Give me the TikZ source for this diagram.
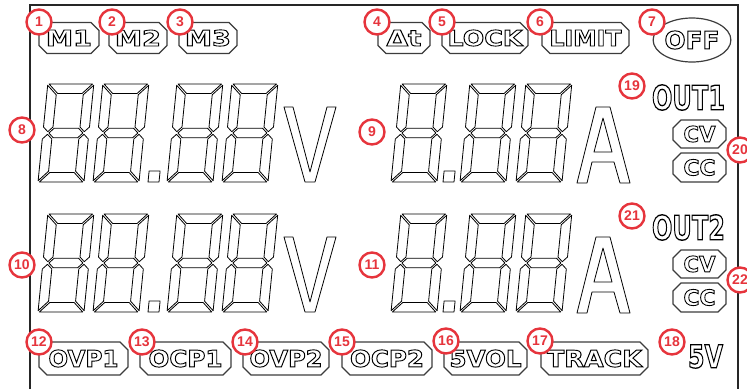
\documentclass[tikz,border=0pt]{standalone}
\usepackage{fontspec}
\usepackage{graphicx}
\usetikzlibrary{shapes.misc,shapes.geometric}
\setmainfont{Liberation Sans}
\newfontfamily\lcdfont{DejaVu Sans}
\definecolor{cred}{RGB}{230,52,60}
\definecolor{boxc}{RGB}{60,60,60}
\newcommand{\ot}[3]{\resizebox{#1pt}{#2pt}{\fontsize{20pt}{20pt}\selectfont\lcdfont\bfseries\special{pdf:literal direct 1 Tr 0.8 w}#3\special{pdf:literal direct 0 Tr}}}
\newcommand{\sdigit}[2]{%
 \begin{scope}[shift={(#1,#2)},xslant=0.1,yscale=-1]
  \draw[seg] (1.3,98) -- (44.7,98) -- (35.2,88.5) -- (10.8,88.5) -- cycle;
  \draw[seg] (0,96.7) -- (9.5,87.2) -- (9.5,55) -- (4.75,50.3) -- (0,55) -- cycle;
  \draw[seg] (46,96.7) -- (36.5,87.2) -- (36.5,55) -- (41.25,50.3) -- (46,55) -- cycle;
  \draw[seg] (6,49) -- (10.8,53.75) -- (35.2,53.75) -- (40,49) -- (35.2,44.25) -- (10.8,44.25) -- cycle;
  \draw[seg] (0,1.3) -- (9.5,10.8) -- (9.5,43) -- (4.75,47.7) -- (0,43) -- cycle;
  \draw[seg] (46,1.3) -- (36.5,10.8) -- (36.5,43) -- (41.25,47.7) -- (46,43) -- cycle;
  \draw[seg] (1.3,0) -- (44.7,0) -- (35.2,9.5) -- (10.8,9.5) -- cycle;
 \end{scope}}
\newcommand{\sdot}[2]{%
 \begin{scope}[shift={(#1,#2)},xslant=0.1,yscale=-1]
  \draw[seg] (0,0) rectangle (11,11);
 \end{scope}}
\begin{document}
\begin{tikzpicture}[x=1pt,y=-1pt,
  seg/.style={draw=black,line width=0.8pt,line join=round},
  frameline/.style={draw=black!85,line width=1.6pt},
  cbox/.style={chamfered rectangle,chamfered rectangle xsep=4pt,chamfered rectangle ysep=4pt,draw=boxc,line width=1.2pt,inner sep=0pt,fill=white},
  lbl/.style={inner sep=0pt},
  num/.style={circle,draw=cred,line width=2.4pt,fill=white,minimum size=25pt,inner sep=0pt,text=cred,font=\fontsize{14pt}{14pt}\selectfont\bfseries}]
\useasboundingbox (0,0) rectangle (747,389);
% frame
\draw[frameline] (30,389) -- (30,5) -- (738,5) -- (738,389);
% digits
\foreach \r in {0,130}{
  \foreach \x in {38,93,167,222,391,460,516}{\sdigit{\x}{182+\r}}
  \sdot{148}{182+\r}
  \sdot{443}{182+\r}
  \draw[seg] (284,107+\r) -- (293,107+\r) -- (310,172+\r) -- (327,107+\r) -- (336,107+\r) -- (315,182+\r) -- (305,182+\r) -- cycle;
  \draw[seg,even odd rule] (577,183+\r) -- (596,107+\r) -- (610,107+\r) -- (630,183+\r) -- (620,183+\r) -- (614,162+\r) -- (592,162+\r) -- (587,183+\r) -- cycle
     (594,152+\r) -- (612,152+\r) -- (603,118+\r) -- cycle;
}
% top row
\node[cbox,minimum width=60pt,minimum height=31pt] (m1) at (69,38) {\ot{46}{16}{M1}};
\node[cbox,minimum width=58pt,minimum height=31pt] (m2) at (138,38) {\ot{46}{16}{M2}};
\node[cbox,minimum width=58pt,minimum height=31pt] (m3) at (208,38) {\ot{46}{16}{M3}};
\node[cbox,minimum width=52pt,minimum height=31pt] (dt) at (404,38) {\ot{35}{16}{Δt}};
\node[cbox,minimum width=86pt,minimum height=31pt] (lock) at (485,38) {\ot{75}{16}{LOCK}};
\node[cbox,minimum width=87pt,minimum height=31pt] (limit) at (585.5,38) {\ot{72}{16}{LIMIT}};
\node[ellipse,draw=boxc,line width=1.2pt,minimum width=76pt,minimum height=44pt,inner sep=0pt] (off) at (692,40) {\ot{55}{18}{OFF}};
% right side
\node[lbl] (out1) at (688.5,97.5) {\ot{73}{25}{OUT1}};
\node[cbox,minimum width=53pt,minimum height=28pt] (cv1) at (699.5,134) {\ot{32}{16}{CV}};
\node[cbox,minimum width=53pt,minimum height=29pt] (cc1) at (699.5,167.5) {\ot{32}{16}{CC}};
\node[lbl] (out2) at (688.5,227.5) {\ot{73}{25}{OUT2}};
\node[cbox,minimum width=53pt,minimum height=28pt] (cv2) at (699.5,264) {\ot{32}{16}{CV}};
\node[cbox,minimum width=53pt,minimum height=29pt] (cc2) at (699.5,297.5) {\ot{32}{16}{CC}};
% bottom row
\node[cbox,minimum width=89pt,minimum height=33pt] (ovp1) at (83.5,358.5) {\ot{70}{17}{OVP1}};
\node[cbox,minimum width=91pt,minimum height=33pt] (ocp1) at (185.5,358.5) {\ot{74}{17}{OCP1}};
\node[cbox,minimum width=86pt,minimum height=33pt] (ovp2) at (286,358.5) {\ot{73}{17}{OVP2}};
\node[cbox,minimum width=90pt,minimum height=33pt] (ocp2) at (387,358.5) {\ot{74}{17}{OCP2}};
\node[cbox,minimum width=83pt,minimum height=33pt] (fivevol) at (485.5,358.5) {\ot{72}{17}{5VOL}};
\node[cbox,minimum width=107pt,minimum height=33pt] (track) at (594.5,358.5) {\ot{95}{17}{TRACK}};
\node[lbl] (fivev) at (705.5,356.5) {\ot{35}{23}{5V}};
% numbered circles
\node[num] (n1) at (39,22) {1};
\node[num] (n2) at (112,22) {2};
\node[num] (n3) at (180,22) {3};
\node[num] (n4) at (377,22) {4};
\node[num] (n5) at (442,22) {5};
\node[num] (n6) at (540,22) {6};
\node[num] (n7) at (652,22) {7};
\node[num] (n8) at (22,130) {8};
\node[num] (n9) at (372,132) {9};
\node[num] (n10) at (22,265) {10};
\node[num] (n11) at (372,265) {11};
\node[num] (n12) at (39,342) {12};
\node[num] (n13) at (142,342) {13};
\node[num] (n14) at (245,342) {14};
\node[num] (n15) at (342,342) {15};
\node[num] (n16) at (446,341) {16};
\node[num] (n17) at (540,341) {17};
\node[num] (n18) at (672,342) {18};
\node[num] (n19) at (632,86) {19};
\node[num] (n20) at (740,150) {20};
\node[num] (n21) at (632,216) {21};
\node[num] (n22) at (740,280) {22};
\end{tikzpicture}
\end{document}
